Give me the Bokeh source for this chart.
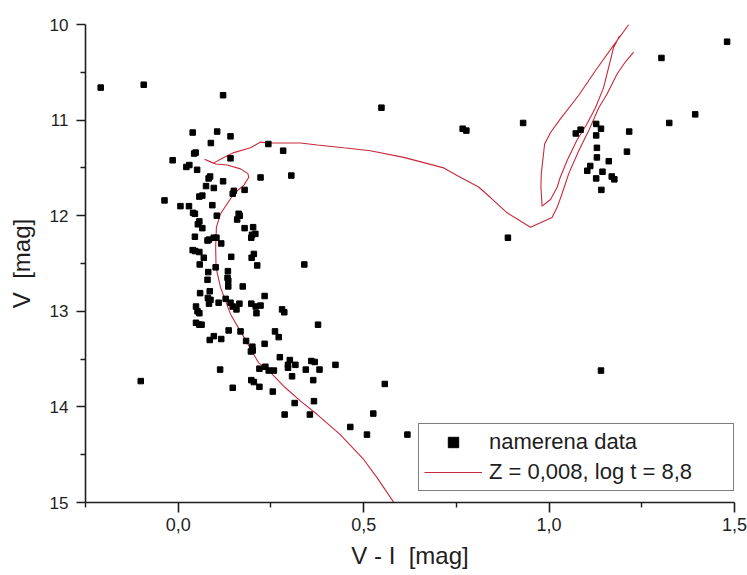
from bokeh.plotting import figure
from bokeh.models import (Range1d, FixedTicker, CustomJSTickFormatter,
                          Legend, LegendItem)
from bokeh.embed import file_html
from bokeh.resources import INLINE

nan = float("nan")

# Measured stars: colour index V-I and apparent magnitude V
vi = [-0.209, -0.093, 0.121, 0.039, 0.105, 0.141, 0.088, 0.047, 0.043, -0.015,
      0.141, 0.030, 0.022, 0.051, 0.086, 0.082, 0.121, 0.075, 0.096, 0.150,
      0.147, 0.179, 0.222, -0.037, 0.065, 0.057, 0.006, 0.029, 0.092, 0.040,
      0.045, 0.163, 0.166, 0.159, 0.104, 0.057, 0.053, 0.065, 0.179, 0.202,
      0.199, 0.208, 0.197, 0.045, 0.083, 0.079, 0.096, 0.103, 0.116, 0.039,
      0.046, 0.057, 0.069, 0.143, 0.198, 0.204, 0.058, 0.081, 0.101, 0.134,
      0.213, 0.079, 0.133, 0.135, 0.135, 0.174, 0.059, 0.085, 0.080, 0.087,
      0.083, 0.048, 0.052, 0.057, 0.109, 0.128, 0.141, 0.147, 0.157, 0.165,
      0.197, 0.209, 0.211, 0.222, 0.048, 0.057, 0.063, 0.136, 0.168, 0.085,
      0.096, 0.116, 0.183, 0.200, 0.201, 0.196, 0.113, 0.219, -0.101, 0.147,
      0.197, 0.204, 0.219, 0.243, 0.283, 0.305, 0.340, 0.548, 0.767, 0.777,
      0.930, 0.889, 0.233, 0.280, 0.286, 0.377, 0.261, 0.271, 0.233, 0.274,
      0.301, 0.296, 0.296, 0.316, 0.359, 0.368, 0.381, 0.344, 0.424, 0.235,
      0.244, 0.258, 0.307, 0.364, 0.255, 0.557, 0.314, 0.366, 0.287, 0.355,
      0.526, 0.464, 0.509, 0.618, 1.480, 1.303, 1.394, 1.324, 1.127, 1.140,
      1.127, 1.085, 1.072, 1.216, 1.129, 1.210, 1.129, 1.161, 1.111, 1.103,
      1.144, 1.127, 1.169, 1.176, 1.141, 1.140]
v = [10.66, 10.63, 10.74, 11.13, 11.12, 11.17, 11.24, 11.34, 11.35, 11.42,
     11.40, 11.47, 11.49, 11.52, 11.59, 11.61, 11.64, 11.69, 11.71, 11.74,
     11.77, 11.73, 11.60, 11.84, 11.79, 11.80, 11.90, 11.90, 11.89, 11.97,
     11.98, 11.98, 12.00, 12.04, 12.00, 12.06, 12.09, 12.13, 12.13, 12.12,
     12.20, 12.19, 12.23, 12.22, 12.25, 12.26, 12.23, 12.23, 12.29, 12.36,
     12.37, 12.38, 12.44, 12.43, 12.44, 12.40, 12.51, 12.59, 12.54, 12.58,
     12.52, 12.67, 12.65, 12.68, 12.74, 12.74, 12.81, 12.79, 12.86, 12.88,
     12.92, 12.95, 13.00, 13.02, 12.91, 12.87, 12.91, 12.95, 12.98, 12.92,
     12.92, 12.95, 13.02, 12.94, 13.12, 13.14, 13.14, 13.20, 13.21, 13.30,
     13.26, 13.29, 13.31, 13.37, 13.41, 13.42, 13.61, 13.60, 13.73, 13.80,
     13.72, 13.74, 13.79, 11.25, 11.32, 11.58, 12.51, 10.87, 11.09, 11.11,
     11.03, 12.23, 12.84, 12.98, 13.01, 13.14, 13.21, 13.27, 13.34, 13.48,
     13.51, 13.56, 13.59, 13.56, 13.52, 13.53, 13.61, 13.61, 13.56, 13.58,
     13.62, 13.62, 13.68, 13.72, 13.84, 13.76, 13.96, 13.94, 14.08, 14.08,
     14.07, 14.21, 14.29, 14.29, 10.18, 10.35, 10.94, 11.03, 11.04, 11.09,
     11.16, 11.10, 11.14, 11.12, 11.29, 11.33, 11.39, 11.43, 11.48, 11.53,
     11.54, 11.61, 11.59, 11.62, 11.73, 13.62]

# Isochrone Z = 0.008, log t = 8.8 (NaN separates the two drawn pieces)
iso_vi = [0.585, 0.536, 0.500, 0.437, 0.375, 0.330, 0.289, 0.244, 0.217, 0.177,
          0.141, 0.114, 0.102, 0.101, 0.103, 0.114, 0.150, 0.177, 0.190, 0.188,
          0.168, 0.132, 0.101, 0.071, 0.095, 0.119, 0.150, 0.195, 0.222, 0.243,
          0.330, 0.375, 0.446, 0.518, 0.608, 0.716, 0.752, 0.810, 0.842, 0.887,
          0.950, 1.008, 1.022, 1.035, 1.053, 1.080, 1.107, 1.134, 1.156, 1.183,
          1.206, 1.228, nan,
          1.215, 1.170, 1.129, 1.080, 1.030, 1.004, 0.988, 0.979, 0.978, 0.981,
          1.004, 1.022, 1.030, 1.049, 1.075, 1.102, 1.125, 1.147, 1.165, 1.174,
          1.190]
iso_v = [15.02, 14.74, 14.55, 14.29, 14.08, 13.94, 13.80, 13.62, 13.54, 13.27,
         13.03, 12.75, 12.54, 12.33, 12.12, 11.98, 11.77, 11.68, 11.60, 11.56,
         11.51, 11.47, 11.46, 11.41, 11.45, 11.40, 11.34, 11.29, 11.23, 11.24,
         11.24, 11.26, 11.29, 11.32, 11.39, 11.50, 11.58, 11.70, 11.81, 11.97,
         12.12, 12.02, 11.91, 11.77, 11.56, 11.32, 11.11, 10.87, 10.73, 10.52,
         10.39, 10.29, nan,
         10.00, 10.24, 10.46, 10.74, 10.99, 11.13, 11.25, 11.56, 11.70, 11.90,
         11.83, 11.70, 11.60, 11.42, 11.21, 11.04, 10.87, 10.66, 10.38, 10.24,
         10.12]

x_major = [0.0, 0.5, 1.0, 1.5]
x_minor = [-0.25, 0.25, 0.75, 1.25]
y_major = [10, 11, 12, 13, 14, 15]
y_minor = [10.5, 11.5, 12.5, 13.5, 14.5]

FONT = "Liberation Sans"
AXIS_COLOR = "#1e1e1e"
NBSP = "\u00a0"

p = figure(width=747, height=575, output_backend="svg", toolbar_location=None,
           x_range=Range1d(-0.25, 1.5), y_range=Range1d(15, 10),
           min_border_left=85, min_border_right=13,
           min_border_top=24, min_border_bottom=73)
p.outline_line_color = None
p.grid.visible = False
p.background_fill_color = "white"
p.border_fill_color = "white"

r_iso = p.line(iso_vi, iso_v, line_color="#c8283a", line_width=1.1)
r_pts = p.scatter(vi, v, marker="square", size=5.5,
                  fill_color="black", line_color="black")

for ax in (p.xaxis[0], p.yaxis[0]):
    ax.axis_line_color = AXIS_COLOR
    ax.axis_line_width = 1.6
    ax.major_tick_line_color = AXIS_COLOR
    ax.major_tick_line_width = 1.6
    ax.minor_tick_line_color = AXIS_COLOR
    ax.minor_tick_line_width = 1.4
    ax.major_tick_in = 0
    ax.minor_tick_in = 0
    ax.major_label_text_font = FONT
    ax.axis_label_text_font = FONT
    ax.axis_label_text_font_style = "normal"
    ax.major_label_text_color = "#1e1e1e"
    ax.axis_label_text_color = "#1e1e1e"

xa = p.xaxis[0]
xa.ticker = FixedTicker(ticks=x_major, minor_ticks=x_minor)
xa.formatter = CustomJSTickFormatter(
    code="return tick.toFixed(1).replace('.', ',');")
xa.major_tick_out = 10
xa.minor_tick_out = 5
xa.major_label_text_font_size = "18px"
xa.major_label_standoff = 5
xa.axis_label = "V - I" + NBSP * 2 + "[mag]"
xa.axis_label_text_font_size = "24px"
xa.axis_label_standoff = 8

ya = p.yaxis[0]
ya.ticker = FixedTicker(ticks=y_major, minor_ticks=y_minor)
ya.major_tick_out = 9
ya.minor_tick_out = 5
ya.major_label_text_font_size = "17px"
ya.major_label_standoff = 8
ya.axis_label = "V" + NBSP * 2 + "[mag]"
ya.axis_label_text_font_size = "24px"
ya.axis_label_standoff = 12

legend = Legend(
    items=[LegendItem(label="namerena data", renderers=[r_pts]),
           LegendItem(label="Z = 0,008, log t = 8,8", renderers=[r_iso])],
    location=(333, 11),
    orientation="vertical",
    label_text_font=FONT,
    label_text_font_size="22px",
    label_text_color="#1e1e1e",
    glyph_width=58, glyph_height=26, label_height=26,
    label_width=239, label_standoff=7,
    spacing=4, padding=5, margin=0,
    border_line_color="black", border_line_width=1.5,
    background_fill_color="white", background_fill_alpha=1.0,
)
p.add_layout(legend)

open("out.html", "w").write(file_html(p, INLINE))
